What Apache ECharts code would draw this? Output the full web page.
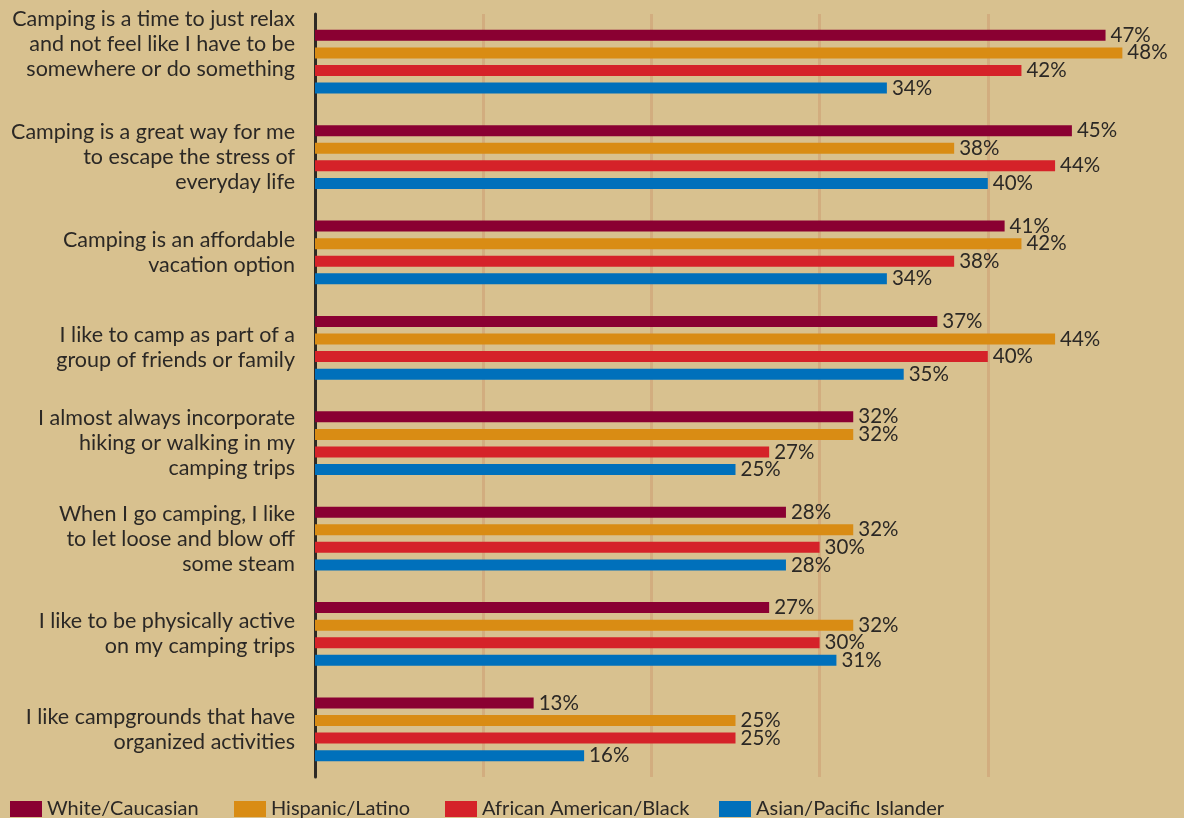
<!DOCTYPE html>
<html>
<head>
<meta charset="utf-8">
<script src="https://cdn.jsdelivr.net/npm/echarts@6/dist/echarts.min.js"></script>
<style>
html,body{margin:0;padding:0;background:#d8c18f;}
#c{width:1184px;height:818px;}
</style>
</head>
<body>
<div id="c"></div>
<script>
const categories = [
  "Camping is a time to just relax\nand not feel like I have to be\nsomewhere or do something",
  "Camping is a great way for me\nto escape the stress of\neveryday life",
  "Camping is an affordable\nvacation option",
  "I like to camp as part of a\ngroup of friends or family",
  "I almost always incorporate\nhiking or walking in my\ncamping trips",
  "When I go camping, I like\nto let loose and blow off\nsome steam",
  "I like to be physically active\non my camping trips",
  "I like campgrounds that have\norganized activities"
];
const seriesNames = ["White/Caucasian", "Hispanic/Latino", "African American/Black", "Asian/Pacific Islander"];
const white = [47, 45, 41, 37, 32, 28, 27, 13];
const hispanic = [48, 38, 42, 44, 32, 32, 32, 25];
const african = [42, 44, 38, 40, 27, 30, 30, 25];
const asian = [34, 40, 34, 35, 25, 28, 31, 16];
const colors = ["#8a0032", "#d98c14", "#d52229", "#0070bb"];
const values = [white, hispanic, african, asian];

const FONT = "Lato";
const TEXT = "#2b2825";

const chart = echarts.init(document.getElementById('c'), null, {renderer: 'canvas'});
const legendLefts = [10, 234, 445, 719];
chart.setOption({
  backgroundColor: "#d8c18f",
  animation: false,
  textStyle: {fontFamily: FONT},
  grid: {left: 315, right: 28, top: 14, bottom: 41, containLabel: false},
  legend: seriesNames.map((n, i) => ({
    data: [n],
    left: legendLefts[i],
    top: 799,
    itemWidth: 32,
    itemHeight: 16,
    itemGap: 0,
    icon: 'rect',
    textStyle: {fontFamily: FONT, fontSize: 20, color: TEXT},
    padding: 0,
    selectedMode: false
  })),
  xAxis: {
    type: 'value',
    min: 0, max: 50, interval: 10,
    axisLine: {show: false},
    axisTick: {show: false},
    axisLabel: {show: false},
    splitLine: {show: true, showMinLine: false, showMaxLine: false, lineStyle: {color: "#d2ad7f", width: 3}}
  },
  yAxis: {
    type: 'category',
    inverse: true,
    data: categories,
    axisLine: {show: true, lineStyle: {color: "#2e2a25", width: 3}},
    axisTick: {show: false},
    axisLabel: {
      fontFamily: FONT, fontSize: 21.5, color: TEXT, margin: 20, lineHeight: 25, align: 'right',
      formatter: (v, idx) => idx === 0 ? v + '\n{g|}' : v,
      rich: {g: {lineHeight: 35, fontSize: 21.5, fontFamily: FONT}}
    }
  },
  series: values.map((v, i) => ({
    name: seriesNames[i],
    type: 'bar',
    data: v,
    barWidth: 11,
    barGap: '60%',
    itemStyle: {color: colors[i]},
    label: {show: true, position: 'right', distance: 5, formatter: '{c}%', fontFamily: FONT, fontSize: 20.5, color: TEXT}
  }))
});
</script>
</body>
</html>
